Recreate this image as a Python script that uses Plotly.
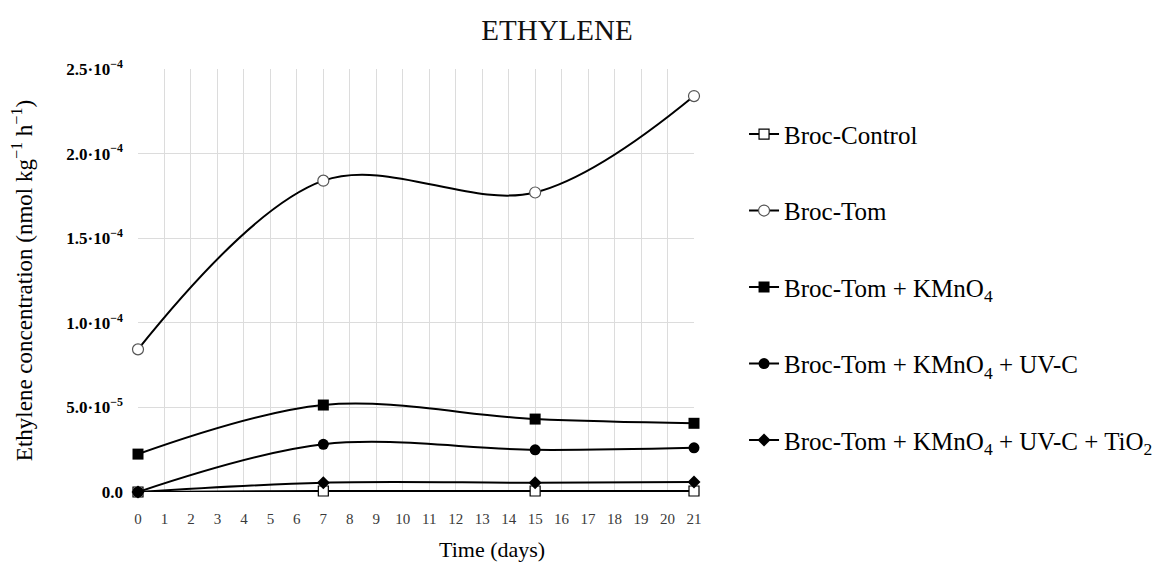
import plotly.graph_objects as go

days = [0, 7, 15, 21]
broc_control = [0.0, 0.6e-6, 0.6e-6, 0.6e-6]
broc_tom = [8.43e-5, 1.84e-4, 1.77e-4, 2.34e-4]
broc_tom_kmno4 = [2.24e-5, 5.14e-5, 4.31e-5, 4.06e-5]
broc_tom_kmno4_uvc = [0.0, 2.82e-5, 2.49e-5, 2.61e-5]
broc_tom_kmno4_uvc_tio2 = [0.0, 0.55e-5, 0.55e-5, 0.59e-5]

series_names = [
    "Broc-Control",
    "Broc-Tom",
    "Broc-Tom + KMnO<sub>4</sub>",
    "Broc-Tom + KMnO<sub>4</sub> + UV-C",
    "Broc-Tom + KMnO<sub>4</sub> + UV-C + TiO<sub>2</sub>",
]

x_ticks = list(range(0, 22))
y_tickvals = [0, 5e-5, 1e-4, 1.5e-4, 2e-4, 2.5e-4]
y_ticktext = ["0.0", "5.0·10<sup>−5</sup>", "1.0·10<sup>−4</sup>",
              "1.5·10<sup>−4</sup>", "2.0·10<sup>−4</sup>", "2.5·10<sup>−4</sup>"]

FONT = "Liberation Serif"

styles = [
    dict(symbol="square", color="white", line=dict(color="black", width=1.2), size=10),
    dict(symbol="circle", color="white", line=dict(color="#555555", width=1.2), size=11),
    dict(symbol="square", color="black", line=dict(color="black", width=0), size=11),
    dict(symbol="circle", color="black", line=dict(color="black", width=0), size=11),
    dict(symbol="diamond", color="black", line=dict(color="black", width=0), size=10),
]

data = [broc_control, broc_tom, broc_tom_kmno4, broc_tom_kmno4_uvc, broc_tom_kmno4_uvc_tio2]

# page body has an 8px margin: figure starts at (8, 8)
W, H = 1154, 554
PW, PH = W - 130 - 468, H - 61 - 70

fig = go.Figure()
for i, (name, ys, st) in enumerate(zip(series_names, data, styles)):
    fig.add_trace(go.Scatter(
        x=days, y=ys, name=name, mode="lines+markers",
        line=dict(color="black", width=2, shape="spline", smoothing=1.0),
        marker=st, legendgroup=f"g{i}", cliponaxis=False,
    ))

fig.update_layout(
    width=W, height=H,
    margin=dict(l=130, r=468, t=61, b=70, autoexpand=False),
    paper_bgcolor="white", plot_bgcolor="white",
    font=dict(family=FONT, color="black"),
    title=dict(text="ETHYLENE", x=549 / W, xanchor="center", y=1 - 22 / H,
               yanchor="middle", font=dict(family=FONT, size=29, color="#111111")),
    legend=dict(x=1.09, y=0.90, xanchor="left", yanchor="top",
                font=dict(family=FONT, size=25, color="black"),
                tracegroupgap=41, itemwidth=30, traceorder="grouped"),
    showlegend=True,
    annotations=[dict(text="Time (days)", xref="paper", yref="paper",
                      x=(484 - 130) / PW, y=-(549 - 8 - 484) / PH,
                      xanchor="center", yanchor="middle", showarrow=False,
                      font=dict(family=FONT, size=22, color="black"))],
)
fig.update_xaxes(
    range=[0, 21], tickvals=x_ticks, ticktext=[str(t) for t in x_ticks],
    showgrid=True, gridcolor="#dcdcdc", gridwidth=1, zeroline=False,
    showline=False, ticks="", ticklabelstandoff=16,
    tickfont=dict(family=FONT, size=15, color="#3a3a3a"),
)
fig.update_yaxes(
    range=[0, 2.5e-4], tickvals=y_tickvals, ticktext=["<b>" + t + "</b>" for t in y_ticktext],
    showgrid=True, gridcolor="#dcdcdc", gridwidth=1, zeroline=False,
    showline=False, ticks="", ticklabelstandoff=14,
    tickfont=dict(family=FONT, size=17, color="black"),
    title=dict(text="Ethylene concentration (nmol kg<sup>−1</sup> h<sup>−1</sup>)",
               font=dict(family=FONT, size=23), standoff=30),
)

fig.write_html("out.html")
